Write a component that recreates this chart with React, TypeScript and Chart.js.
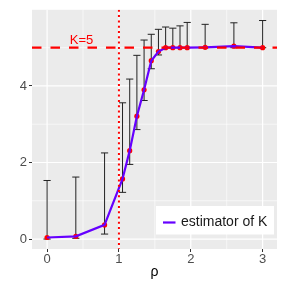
import React, { useEffect, useRef } from "react";
import { Chart, registerables } from "chart.js";

Chart.register(...registerables);

const rho = [0, 0.4, 0.8, 1.05, 1.15, 1.25, 1.35, 1.45, 1.55, 1.65, 1.75, 1.85, 1.95, 2.2, 2.6, 3.0];
const estimate = [0.04, 0.07, 0.37, 1.57, 2.31, 3.21, 3.9, 4.66, 4.9, 5.0, 5.0, 5.0, 5.0, 5.01, 5.04, 5.0];
const lower = [0, 0.02, 0.13, 1.22, 1.95, 2.86, 3.62, 4.45, 4.81, 5.0, 5.0, 5.0, 5.0, 5.0, 5.0, 5.0];
const upper = [1.53, 1.62, 2.25, 3.56, 4.18, 4.8, 5.2, 5.35, 5.48, 5.54, 5.51, 5.57, 5.66, 5.61, 5.65, 5.71];
const xTicks = [0, 1, 2, 3];
const yTicks = [0, 2, 4];
const xMinor = [0.5, 1.5, 2.5];
const yMinor = [1, 3, 5];
const K = 5;
const rhoLine = 1;
const kLabel = "K=5";
const legendLabel = "estimator of K";
const xTitle = "ρ";

const FONT = "'Liberation Sans', Arial, sans-serif";

const decor = {
  id: "decor",
  beforeDraw(chart: any) {
    const { ctx, chartArea: a } = chart;
    ctx.save();
    ctx.fillStyle = "#ebebeb";
    ctx.fillRect(a.left, a.top, a.right - a.left, a.bottom - a.top);
    ctx.restore();
  },
  beforeDatasetsDraw(chart: any) {
    const { ctx, chartArea: a, scales } = chart;
    const xs = scales.x, ys = scales.y;
    ctx.save();
    ctx.strokeStyle = "#ffffff";
    ctx.lineWidth = 0.6;
    xMinor.forEach((v) => {
      const p = xs.getPixelForValue(v);
      ctx.beginPath(); ctx.moveTo(p, a.top); ctx.lineTo(p, a.bottom); ctx.stroke();
    });
    yMinor.forEach((v) => {
      const p = ys.getPixelForValue(v);
      ctx.beginPath(); ctx.moveTo(a.left, p); ctx.lineTo(a.right, p); ctx.stroke();
    });
    ctx.lineWidth = 1.2;
    xTicks.forEach((v) => {
      const p = xs.getPixelForValue(v);
      ctx.beginPath(); ctx.moveTo(p, a.top); ctx.lineTo(p, a.bottom); ctx.stroke();
    });
    yTicks.forEach((v) => {
      const p = ys.getPixelForValue(v);
      ctx.beginPath(); ctx.moveTo(a.left, p); ctx.lineTo(a.right, p); ctx.stroke();
    });
    // error bars
    ctx.strokeStyle = "#222222";
    ctx.lineWidth = 1;
    rho.forEach((r, i) => {
      const x = xs.getPixelForValue(r);
      const x0 = xs.getPixelForValue(r - 0.05);
      const x1 = xs.getPixelForValue(r + 0.05);
      const yl = ys.getPixelForValue(lower[i]);
      const yu = ys.getPixelForValue(upper[i]);
      ctx.beginPath();
      ctx.moveTo(x, yl); ctx.lineTo(x, yu);
      ctx.moveTo(x0, yl); ctx.lineTo(x1, yl);
      ctx.moveTo(x0, yu); ctx.lineTo(x1, yu);
      ctx.stroke();
    });
    ctx.restore();
  },
  afterDatasetsDraw(chart: any) {
    const { ctx, chartArea: a, scales } = chart;
    const xs = scales.x, ys = scales.y;
    ctx.save();
    ctx.beginPath();
    ctx.rect(a.left, a.top, a.right - a.left, a.bottom - a.top);
    ctx.clip();
    ctx.strokeStyle = "#ff0000";
    ctx.lineWidth = 2.2;
    ctx.setLineDash([9.5, 9]);
    const yk = ys.getPixelForValue(K);
    ctx.beginPath(); ctx.moveTo(a.left, yk); ctx.lineTo(a.right, yk); ctx.stroke();
    ctx.setLineDash([2, 3.3]);
    ctx.lineWidth = 2;
    const xr = xs.getPixelForValue(rhoLine);
    ctx.beginPath(); ctx.moveTo(xr, a.top); ctx.lineTo(xr, a.bottom); ctx.stroke();
    ctx.setLineDash([]);
    ctx.fillStyle = "#ff0000";
    ctx.font = `13px ${FONT}`;
    ctx.textAlign = "center";
    ctx.textBaseline = "middle";
    ctx.fillText(kLabel, xs.getPixelForValue(0.48), ys.getPixelForValue(5.2));
    ctx.restore();
  },
  afterDraw(chart: any) {
    const { ctx, chartArea: a } = chart;
    ctx.save();
    // legend
    const bx = a.right - 121, by = a.bottom - 43, bw = 118, bh = 28.5;
    ctx.fillStyle = "#ffffff";
    ctx.fillRect(bx, by, bw, bh);
    ctx.strokeStyle = "#6600ff";
    ctx.lineWidth = 2.2;
    ctx.beginPath();
    ctx.moveTo(bx + 7, by + 16.5); ctx.lineTo(bx + 19.5, by + 16.5);
    ctx.stroke();
    ctx.fillStyle = "#1a1a1a";
    ctx.font = `14px ${FONT}`;
    ctx.textAlign = "left";
    ctx.textBaseline = "middle";
    ctx.fillText(legendLabel, bx + 25, by + 16.5);
    // x title
    ctx.fillStyle = "#000000";
    ctx.font = `14px ${FONT}`;
    ctx.textAlign = "center";
    ctx.fillText(xTitle, (a.left + a.right) / 2, 272);
    ctx.restore();
  },
};

export default function App() {
  const ref = useRef<HTMLCanvasElement>(null);
  useEffect(() => {
    if (!ref.current) return;
    const pts = rho.map((r, i) => ({ x: r, y: estimate[i] }));
    const chart = new Chart(ref.current, {
      type: "scatter",
      data: {
        datasets: [
          {
            data: pts,
            showLine: true,
            borderColor: "#6600ff",
            borderWidth: 2.2,
            pointRadius: 0,
            tension: 0,
          } as any,
          {
            data: pts,
            showLine: false,
            pointRadius: 2.6,
            pointBackgroundColor: "#ff0000",
            pointBorderWidth: 0,
            borderColor: "#ff0000",
          } as any,
        ],
      },
      options: {
        responsive: false,
        animation: false,
        layout: { padding: { top: 4, right: 10, left: 0, bottom: 0 } },
        plugins: { legend: { display: false }, tooltip: { enabled: false } },
        scales: {
          x: {
            type: "linear",
            min: -0.21,
            max: 3.2,
            afterBuildTicks: (s: any) => { s.ticks = xTicks.map((v) => ({ value: v })); },
            afterFit: (s: any) => { s.height = 38; },
            border: { display: false },
            grid: { drawOnChartArea: false, color: "#333333", tickLength: 3, tickWidth: 1 } as any,
            ticks: { color: "#4d4d4d", font: { size: 13, family: FONT }, padding: 0, maxRotation: 0 },
          },
          y: {
            type: "linear",
            min: -0.26,
            max: 5.99,
            afterBuildTicks: (s: any) => { s.ticks = yTicks.map((v) => ({ value: v })); },
            afterFit: (s: any) => { s.width = 32; },
            border: { display: false },
            grid: { drawOnChartArea: false, color: "#333333", tickLength: 3, tickWidth: 1 } as any,
            ticks: { color: "#4d4d4d", font: { size: 13, family: FONT }, padding: 2 },
          },
        },
      },
      plugins: [decor],
    });
    return () => chart.destroy();
  }, []);
  return (
    <div style={{ position: "fixed", left: 0, top: 0, width: 287, height: 287, background: "#fff" }}>
      <canvas ref={ref} width={287} height={287} style={{ width: 287, height: 287 }} />
    </div>
  );
}
